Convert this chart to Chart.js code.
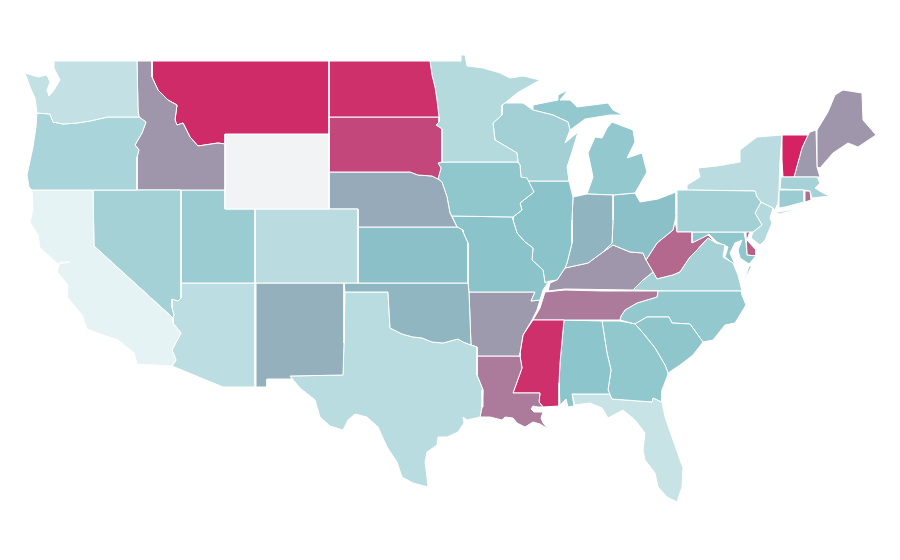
<!DOCTYPE html>
<html>
<head>
<meta charset="utf-8">
<title>US states map</title>
<script src="https://cdn.jsdelivr.net/npm/chart.js@4/dist/chart.umd.js"></script>
<style>
  html, body { margin: 0; padding: 0; background: #fff; }
  #map { display: block; }
</style>
</head>
<body>
<canvas id="map" width="900" height="560"></canvas>
<script>
// values per state, null = no data
const stateNames = ["WA","OR","CA","NV","ID","MT","WY","UT","AZ","CO","NM","ND","SD","NE","KS","OK","TX","MN","IA","MO","AR","LA","MS","WI","IL","IN","MI","OH","KY","TN","AL","GA","FL","SC","NC","VA","WV","PA","NY","NJ","MD","DE","CT","MA","RI","VT","NH","ME"];
const stateValues = [19,33,0,36,75,98,null,41,23,24,61,97,92,64,52,57,25,27,47,50,73,81,97,37,50,58,45,52,75,81,49,46,17,48,45,35,85,37,24,27,47,87,41,35,84,100,73,75];

// colour scale stops
const scaleStops = [0, 50, 75, 100];
const scaleColors = [[230,243,245],[138,196,202],[160,150,171],[212,34,99]];
const noDataColor = "#f2f3f5";

// outlines, in map units (one string per ring)
const stateOutlines = [
  /* WA */ ["54,61 137,61 138,110 139,117 108,117 90,121 77,123 63,124 53,122 50,114 37,113 35,98 30,87 25,73 38,77 47,75 50,82 47,90 49,96 54,90 60,80 56,72 54,68"],
  /* OR */ ["37,113 50,114 53,122 63,124 77,123 90,121 108,117 139,117 146,122 142,133 135,145 139,150 137,157 137,190 32,190 29,187 27,175 33,147 36,127"],
  /* CA */ ["32,190 93,190 94,246 173,318 173,323 181,333 172,350 176,360 172,366 137,364 134,353 118,340 103,335 87,329 82,315 67,297 68,285 57,272 60,262 70,262 58,264 40,248 38,235 30,222 33,210"],
  /* NV */ ["93,190 181,190 181,298 178,301 172,299 172,308 174,315 173,318 94,246"],
  /* ID */ ["137,61 152,61 152,77 158,90 168,100 177,105 175,120 177,125 183,123 190,137 198,146 218,143 225,144 225,190 137,190 137,157 139,150 135,145 142,133 146,122 139,117 138,110"],
  /* MT */ ["152,61 329,61 329,134 225,134 225,144 218,143 198,146 190,137 183,123 177,125 175,120 177,105 168,100 158,90 152,77"],
  /* WY */ ["225,134 329,134 329,209 225,209"],
  /* UT */ ["181,190 225,190 225,209 255,209 255,283 181,283"],
  /* AZ */ ["181,283 255,283 255,387 223,387 172,366 176,360 172,350 181,333 173,323 173,318 174,315 172,308 172,299 178,301 181,298"],
  /* CO */ ["255,209 358,209 358,283 255,283"],
  /* NM */ ["256,283 344,283 344,343 343,375 290,376 292,379 267,379 267,387 256,387"],
  /* ND */ ["329,61 430,61 432,75 435,87 437,100 439,117 329,117"],
  /* SD */ ["329,117 439,117 439,122 436,125 442,129 442,162 438,163 441,168 438,179 432,176 418,175 410,172 329,172"],
  /* NE */ ["329,172 410,172 418,175 432,176 438,179 442,182 447,197 450,213 457,227 358,227 358,209 329,209"],
  /* KS */ ["358,227 457,227 463,230 463,232 468,243 468,283 358,283"],
  /* OK */ ["344,283 468,283 469,293 471,345 463,342 458,339 443,343 432,342 422,338 413,337 402,334 390,328 388,292 345,292"],
  /* TX */ ["345,292 388,292 390,328 402,334 413,337 422,338 432,342 443,343 458,339 463,342 471,345 477,347 477,375 483,390 482,407 480,417 467,420 463,417 464,423 458,432 447,437 438,437 437,445 427,452 425,462 427,477 428,487 413,483 402,477 397,462 387,447 378,427 367,417 355,414 348,420 343,430 330,426 320,417 315,400 300,388 290,376 343,375 344,343"],
  /* MN */ ["430,61 461,61 461,55 465,55 467,66 483,68 500,73 510,78 523,76 540,80 517,93 505,103 502,105 502,115 493,123 495,140 507,147 517,153 518,162 442,162 442,129 436,125 439,122 439,117 437,100 435,87 432,75"],
  /* IA */ ["442,162 518,162 520,165 521,177 527,178 534,192 520,203 522,210 513,217 452,216 450,213 447,197 442,182 438,179 441,168 438,163"],
  /* MO */ ["452,216 513,217 513,220 517,233 525,242 533,248 532,260 543,270 545,283 549,281 543,290 540,300 531,301 535,292 469,292 468,283 468,243 463,232 463,230 457,227"],
  /* AR */ ["469,292 535,292 531,301 540,300 537,310 532,320 523,335 520,353 520,356 477,356 477,347 471,345"],
  /* LA */ ["477,356 520,356 522,368 513,393 540,393 539,402 543,407 538,407 533,406 531,409 534,412 540,412 543,412 541,418 543,423 548,429 540,424 533,422 525,427 517,423 513,418 505,417 502,420 490,417 480,417 482,407 483,390 477,375"],
  /* MS */ ["533,320 564,320 560,363 559,383 559,406 543,407 539,402 540,393 513,393 522,368 520,356 520,353 523,335"],
  /* WI */ ["505,103 523,103 533,110 553,115 568,122 570,130 565,143 578,132 572,152 567,167 569,181 527,181 521,177 520,165 518,162 517,153 507,147 495,140 493,123 502,115 502,105"],
  /* IL */ ["527,181 569,181 573,197 572,220 572,243 567,263 565,268 557,280 550,281 545,283 543,270 532,260 533,248 525,242 517,233 513,220 513,217 522,210 520,203 534,192"],
  /* IN */ ["573,197 587,194 613,195 613,220 612,243 603,252 588,263 565,268 567,263 572,243 572,220"],
  /* MI */ ["533,105 558,100 558,95 568,90 560,100 570,100 577,107 608,103 613,110 623,115 610,115 585,119 577,125 570,130 568,122 553,115 533,110", "612,122 633,130 635,142 627,158 642,153 647,172 635,193 613,195 587,194 593,177 588,153 595,137 602,138 607,128"],
  /* OH */ ["613,195 635,193 640,202 658,199 676,192 676,215 675,221 673,230 657,243 646,260 643,253 630,252 613,245 603,252 612,243 613,220"],
  /* KY */ ["548,291 550,283 557,280 565,268 588,263 603,252 613,245 630,252 643,253 646,260 653,272 643,280 633,290 565,289"],
  /* TN */ ["533,320 540,308 545,292 565,290 602,291 658,291 657,297 637,303 625,310 621,316 620,320 580,320 564,320"],
  /* AL */ ["564,320 602,321 607,353 611,370 608,390 610,394 572,394 574,406 568,407 566,399 560,405 559,383 560,363"],
  /* GA */ ["602,321 620,321 635,324 643,333 655,348 665,365 668,373 667,377 662,390 662,402 653,398 652,402 612,399 608,390 611,370 607,353"],
  /* FL */ ["572,394 610,394 612,399 652,402 653,398 662,402 665,417 673,440 683,468 682,487 677,502 667,497 658,487 655,473 645,460 643,450 645,433 635,420 623,410 608,418 602,408 590,403 575,405"],
  /* SC */ ["635,324 647,317 669,317 672,323 690,324 703,342 693,355 680,365 668,373 665,365 655,348 643,333"],
  /* NC */ ["658,291 742,291 742,295 746,305 735,323 725,325 713,340 703,342 690,324 672,323 669,317 647,317 635,324 620,320 621,316 625,310 637,303 657,297"],
  /* VA */ ["716,243 725,245 723,257 733,263 738,275 742,291 667,291 633,290 643,280 653,272 657,279 673,275 680,272 690,257 697,250 708,238", "749,266 752,266 744,280"],
  /* WV */ ["677,232 692,232 692,243 708,235 716,243 708,238 697,250 690,257 680,272 673,275 657,279 653,272 646,260 657,243 673,230 675,221"],
  /* PA */ ["677,190 687,190 755,191 757,197 761,202 755,213 762,225 753,232 677,232"],
  /* NY */ ["687,190 687,185 700,177 698,168 717,166 740,162 740,150 757,137 782,135 780,160 779,190 778,203 775,210 773,208 761,202 757,197 755,191", "773,213 800,208 780,214"],
  /* NJ */ ["761,202 773,208 770,218 772,223 765,240 760,245 751,238 753,232 762,225 755,213"],
  /* MD */ ["692,232 744,232 746,243 747,255 756,256 755,257 749,264 740,258 738,250 742,240 735,243 730,253 735,265 725,257 728,247 717,242 709,234 705,237 692,243"],
  /* DE */ ["746,232 750,231 747,240 756,250 756,256 747,255"],
  /* CT */ ["779,190 804,190 804,202 785,207 779,208"],
  /* MA */ ["781,177 817,177 820,183 815,188 823,193 830,196 812,198 810,191 804,190 780,189"],
  /* RI */ ["805,191 810,191 811,200 805,202"],
  /* VT */ ["782,135 808,135 802,148 794,177 783,177 782,160"],
  /* NH */ ["808,135 810,132 816,130 817,167 820,177 794,177 802,148"],
  /* ME */ ["817,130 828,112 835,95 843,90 862,93 863,120 876,135 858,147 848,143 833,153 820,168 817,167"]
];

function lerpColor(v) {
  if (v === null) return noDataColor;
  let i = 0;
  while (i < scaleStops.length - 2 && v > scaleStops[i + 1]) i++;
  const t = (v - scaleStops[i]) / (scaleStops[i + 1] - scaleStops[i]);
  const c = scaleColors[i].map((a, k) => Math.round(a + (scaleColors[i + 1][k] - a) * t));
  return `rgb(${c[0]},${c[1]},${c[2]})`;
}

function ringPoints(ring) {
  const pts = ring.split(" ").map(p => {
    const [x, y] = p.split(",").map(Number);
    return { x, y };
  });
  pts.push(pts[0]); // close it
  return pts;
}

const datasets = [];
stateNames.forEach((name, i) => {
  stateOutlines[i].forEach(ring => {
    datasets.push({
      label: name,
      data: ringPoints(ring),
      showLine: true,
      fill: "shape",
      tension: 0,
      pointRadius: 0,
      borderWidth: 1,
      borderColor: "#ffffff",
      borderJoinStyle: "round",
      backgroundColor: lerpColor(stateValues[i])
    });
  });
});

new Chart(document.getElementById("map"), {
  type: "scatter",
  data: { datasets },
  options: {
    responsive: false,
    animation: false,
    layout: { padding: 0 },
    plugins: { legend: { display: false }, tooltip: { enabled: false } },
    scales: {
      x: { type: "linear", min: 0, max: 900, display: false },
      y: { type: "linear", min: 0, max: 560, reverse: true, display: false }
    }
  }
});
</script>
</body>
</html>
